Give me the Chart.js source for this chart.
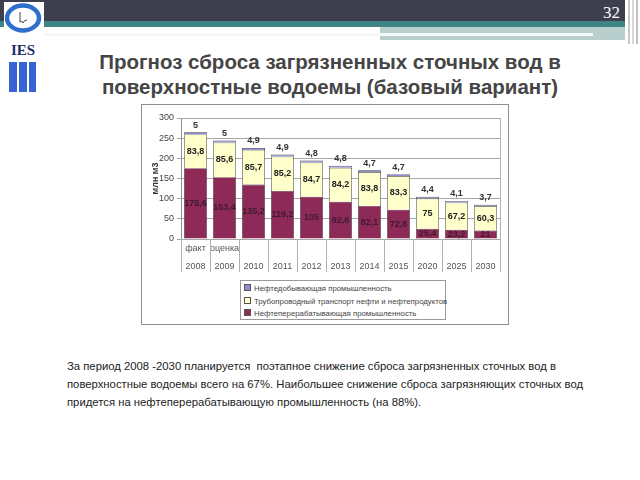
<!DOCTYPE html>
<html>
<head>
<meta charset="utf-8">
<script src="https://cdn.jsdelivr.net/npm/chart.js@4.4.1/dist/chart.umd.min.js"></script>
<style>
  html, body { margin: 0; padding: 0; background: #fff; }
  body { width: 640px; height: 480px; position: relative; overflow: hidden; font-family: "Liberation Sans", Arial, sans-serif; }
  .abs { position: absolute; }
  #hdr { left: 0; top: 0; width: 625px; height: 21px; background: #3d3f4e; }
  #teal { left: 0; top: 21px; width: 625px; height: 6px; background: #3f8583; }
  #band { left: 380px; top: 27px; width: 245px; height: 13px; background: #b9cfcd; }
  #wline { left: 40px; top: 33px; width: 553px; height: 3px; background: #f4f8f8; }
  #pg { left: 603px; top: 3px; width: 22px; color: #fff; font-family: "Liberation Serif", serif; font-size: 17px; }
  #vl1 { left: 625px; top: 0; width: 3px; height: 44px; background: #fff; }
  #vl2 { left: 628px; top: 0; width: 2px; height: 44px; background: #c8c8c8; }
  #vl3 { left: 632px; top: 0; width: 2px; height: 44px; background: #d8d8d8; }
  #vl4 { left: 636px; top: 0; width: 2px; height: 44px; background: #c0c0c0; }
  #logo { left: 4px; top: 2px; width: 40px; height: 90px; }
  #title { left: 40px; top: 49px; width: 580px; text-align: center; font-size: 20.5px; font-weight: bold; color: #454545; line-height: 25px; white-space: nowrap; }
  #box { left: 141px; top: 104px; width: 366px; height: 219px; border: 1px solid #8f8f8f; }
  #chartwrap { left: 142px; top: 105px; width: 365px; height: 172px; }
  #legend { left: 240px; top: 280px; width: 206px; height: 40px; border: 1px solid #9a9a9a; font-size: 7.8px; color: #444; box-sizing: border-box; padding-top: 2px; }
  .li { height: 12.5px; line-height: 12.5px; white-space: nowrap; padding-left: 3px; }
  .sw { display: inline-block; width: 5px; height: 5px; border: 1px solid #555; margin-right: 3px; vertical-align: 0px; }
  #para { left: 67px; top: 357px; width: 570px; font-size: 11.3px; color: #222; line-height: 18px; white-space: nowrap; }
</style>
</head>
<body>
<div id="hdr" class="abs"></div>
<div id="teal" class="abs"></div>
<div id="band" class="abs"></div>
<div id="wline" class="abs"></div>
<div id="vl1" class="abs"></div>
<div id="vl2" class="abs"></div>
<div id="vl3" class="abs"></div>
<div id="vl4" class="abs"></div>
<div id="pg" class="abs">32</div>
<svg id="logo" class="abs" viewBox="0 0 40 90" width="40" height="90">
  <rect x="0" y="0" width="40" height="90" fill="#fff"/>
  <ellipse cx="19" cy="16" rx="16" ry="12.5" fill="none" stroke="#2f6fcb" stroke-width="4.5"/>
  <path d="M16 10 L16 20 Q18 18 19 21 Q20 18 23 18" fill="none" stroke="#444" stroke-width="1"/>
  <text x="19" y="53" text-anchor="middle" font-family="Liberation Serif, serif" font-weight="bold" font-size="15" fill="#1e2f6e">IES</text>
  <rect x="5" y="60" width="8" height="30" fill="#3763d6"/>
  <rect x="15" y="60" width="8" height="30" fill="#3763d6"/>
  <rect x="25" y="60" width="7" height="30" fill="#3763d6"/>
</svg>
<div id="title" class="abs">Прогноз сброса загрязненных сточных вод в<br>поверхностные водоемы (базовый вариант)</div>
<div id="box" class="abs"></div>
<div id="chartwrap" class="abs"><canvas id="c" width="365" height="172"></canvas></div>
<div id="legend" class="abs"></div>
<div id="para" class="abs">За период 2008 -2030 планируется&nbsp; поэтапное снижение сброса загрязненных сточных вод в<br>поверхностные водоемы всего на 67%. Наибольшее снижение сброса загрязняющих сточных вод<br>придется на нефтеперерабатывающую промышленность (на 88%).</div>
<script>
const years = ['2008','2009','2010','2011','2012','2013','2014','2015','2020','2025','2030'];
const notes = ['факт','оценка','','','','','','','','',''];
const refining = [175.6, 153.4, 135.2, 119.2, 105, 92.6, 82.1, 72.8, 25.4, 23.2, 21];
const pipeline = [83.8, 85.6, 85.7, 85.2, 84.7, 84.2, 83.8, 83.3, 75, 67.2, 60.3];
const extraction = [5, 5, 4.9, 4.9, 4.8, 4.8, 4.7, 4.7, 4.4, 4.1, 3.7];
const seriesNames = ['Нефтеперерабатывающая промышленность', 'Трубопроводный транспорт нефти и нефтепродуктов', 'Нефтедобывающая промышленность'];
const yTicks = [0, 50, 100, 150, 200, 250, 300];
const yTitle = 'млн м3';

const labels = years.map((y, i) => [notes[i], y]);
const fmt = v => String(v).replace('.', ',');

const separators = {
  id: 'separators',
  afterDraw(chart) {
    const ctx = chart.ctx, a = chart.chartArea, x = chart.scales.x;
    const n = years.length;
    ctx.save();
    ctx.strokeStyle = '#b0b0b0';
    ctx.lineWidth = 1;
    ctx.beginPath();
    for (let i = 0; i <= n; i++) {
      let px;
      if (i === 0) px = a.left;
      else if (i === n) px = a.right;
      else px = (x.getPixelForValue(i - 1) + x.getPixelForValue(i)) / 2;
      px = Math.round(px) + 0.5;
      const top = (i === n) ? a.top : a.bottom;
      ctx.moveTo(px, top);
      ctx.lineTo(px, a.bottom + 33);
    }
    ctx.stroke();
    ctx.restore();
  }
};

const valueLabels = {
  id: 'valueLabels',
  afterDatasetsDraw(chart) {
    const ctx = chart.ctx;
    ctx.save();
    ctx.textAlign = 'center';
    ctx.textBaseline = 'middle';
    chart.data.datasets.forEach((ds, d) => {
      const meta = chart.getDatasetMeta(d);
      meta.data.forEach((el, i) => {
        const v = ds.data[i];
        ctx.font = 'bold 9px "Liberation Sans", Arial, sans-serif';
        if (d === 2) {
          ctx.fillStyle = '#333';
          ctx.fillText(fmt(v), el.x, el.y - 7);
        } else {
          ctx.fillStyle = d === 0 ? '#3f1a30' : '#222';
          ctx.fillText(fmt(v), el.x, (el.y + el.base) / 2);
        }
      });
    });
    ctx.restore();
  }
};

const chart = new Chart(document.getElementById('c'), {
  type: 'bar',
  data: {
    labels: labels,
    datasets: [
      { label: seriesNames[0], data: refining, backgroundColor: '#8e2a57', borderColor: '#3a2a30', borderWidth: 0.7 },
      { label: seriesNames[1], data: pipeline, backgroundColor: '#ffffcc', borderColor: '#3a3a3a', borderWidth: 0.7 },
      { label: seriesNames[2], data: extraction, backgroundColor: '#8f8fd6', borderColor: '#3a3a3a', borderWidth: 0.7 }
    ]
  },
  options: {
    responsive: false,
    animation: false,
    devicePixelRatio: 1,
    layout: { padding: { top: 13, right: 7, left: 0, bottom: 0 } },
    datasets: { bar: { categoryPercentage: 1, barPercentage: 0.79 } },
    plugins: { legend: { display: false }, tooltip: { enabled: false } },
    scales: {
      x: {
        stacked: true,
        grid: { display: false, drawTicks: false, tickLength: 0 },
        border: { display: false },
        ticks: { color: '#555', font: { size: 9, family: '"Liberation Sans", Arial, sans-serif', lineHeight: 2 }, padding: 1, maxRotation: 0, autoSkip: false },
        afterFit: s => { s.height = 38; }
      },
      y: {
        stacked: true,
        min: 0, max: 300,
        afterBuildTicks: s => { s.ticks = yTicks.map(v => ({ value: v })); },
        grid: { color: '#a8a8a8', tickLength: 4 },
        border: { display: true, color: '#909090' },
        ticks: { color: '#444', font: { size: 9, family: '"Liberation Sans", Arial, sans-serif' }, padding: 3 },
        title: { display: true, text: yTitle, color: '#333', font: { size: 9, weight: 'bold', family: '"Liberation Sans", Arial, sans-serif' }, padding: { top: 8, bottom: 0 } },
        afterFit: s => { s.width = 39; }
      }
    }
  },
  plugins: [separators, valueLabels]
});

const lg = document.getElementById('legend');
chart.data.datasets.slice().reverse().forEach(ds => {
  const row = document.createElement('div');
  row.className = 'li';
  const sw = document.createElement('span');
  sw.className = 'sw';
  sw.style.background = ds.backgroundColor;
  row.appendChild(sw);
  row.appendChild(document.createTextNode(ds.label));
  lg.appendChild(row);
});
</script>
</body>
</html>
